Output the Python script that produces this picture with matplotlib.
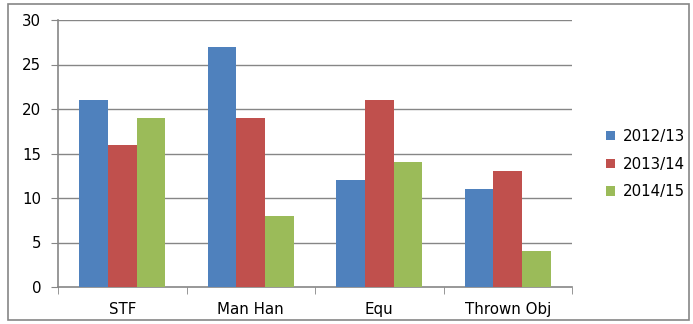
import numpy as np
import matplotlib.pyplot as plt
from matplotlib.patches import Rectangle

categories = ['STF', 'Man Han', 'Equ', 'Thrown Obj']
seasons = ['2012/13', '2013/14', '2014/15']
values_1213 = [21, 27, 12, 11]
values_1314 = [16, 19, 21, 13]
values_1415 = [19, 8, 14, 4]

colors = ['#4F81BD', '#C0504D', '#9BBB59']
grey = '#868686'

fig = plt.figure(figsize=(6.93, 3.24), dpi=100)
ax = fig.add_axes([58/693, 1 - 287/324, (572 - 58)/693, (287 - 20)/324])

# outer frame round the whole chart
fig.patches.append(Rectangle((8/693, 4/324), (689 - 8)/693, (320 - 4)/324,
                             transform=fig.transFigure, fill=False,
                             edgecolor=grey, linewidth=1.2))

x = np.arange(len(categories))
w = 0.222
for i, vals in enumerate([values_1213, values_1314, values_1415]):
    ax.bar(x + (i - 1) * w, vals, w, color=colors[i], label=seasons[i], zorder=3)

ax.set_xlim(-0.5, len(categories) - 0.5)
ax.set_ylim(0, 30)
ax.set_yticks(range(0, 31, 5))
ax.set_xticks(x)
ax.set_xticklabels(categories)
ax.set_xticks(np.arange(-0.5, len(categories), 1), minor=True)
ax.tick_params(axis='x', which='major', length=0, pad=11, labelsize=10.8)
ax.tick_params(axis='x', which='minor', length=5, color=grey, direction='out')
ax.tick_params(axis='y', length=5, color=grey, direction='out', pad=7, labelsize=10.8)

for y in range(5, 31, 5):
    ax.axhline(y, color=grey, linewidth=1, zorder=1)

for s in ['top', 'right']:
    ax.spines[s].set_visible(False)
for s in ['left', 'bottom']:
    ax.spines[s].set_color(grey)
    ax.spines[s].set_linewidth(1.2)

ax.legend(loc='center left', bbox_to_anchor=(1.04, 0.46), frameon=False,
          fontsize=10.8, handlelength=0.6, handleheight=0.6, handletextpad=0.5,
          labelspacing=0.85)

fig.savefig('out.png', dpi=100)
